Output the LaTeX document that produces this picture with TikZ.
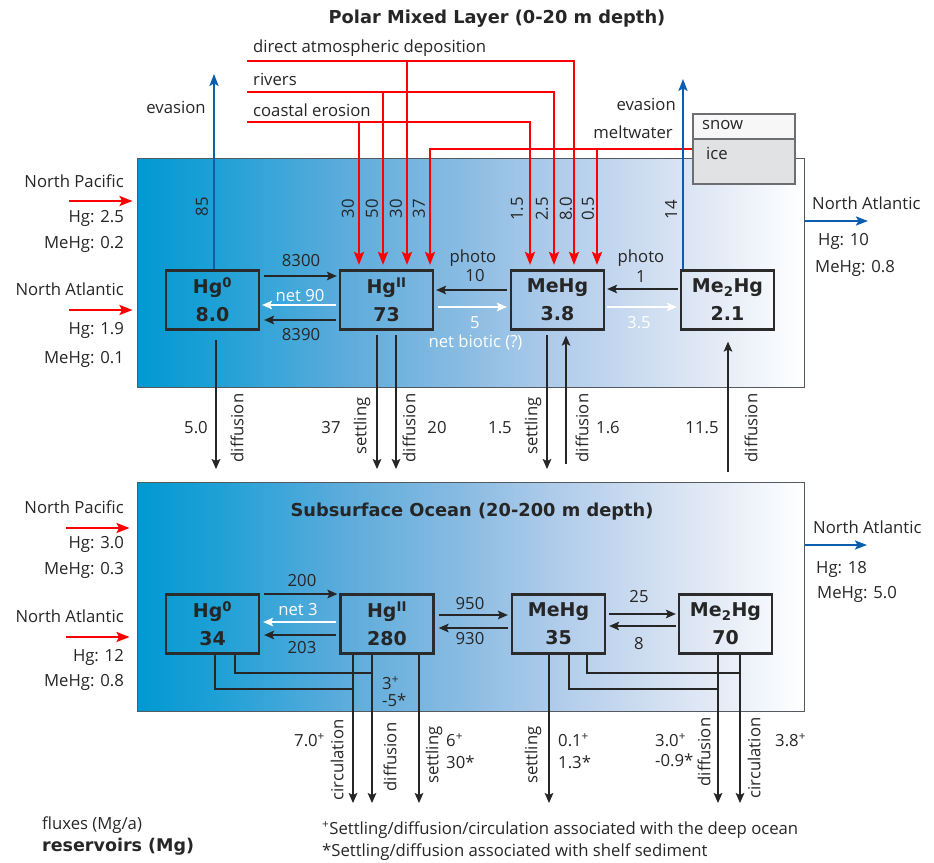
\documentclass[tikz,border=0pt]{standalone}
\usepackage{fontspec}
\setmainfont{Open Sans}
\newfontfamily\heavy{DejaVu Sans}[BoldFont={DejaVu Sans Bold}]
\usetikzlibrary{arrows.meta,calc}
\definecolor{txt}{HTML}{262626}
\definecolor{boxc}{HTML}{2B2B2B}
\definecolor{panelc}{HTML}{555A60}
\definecolor{myred}{HTML}{FF0000}
\definecolor{myblue}{HTML}{0B5DAE}
\definecolor{icegray}{HTML}{E1E2E4}
\definecolor{snowgray}{HTML}{F7F7F7}
\definecolor{icec}{HTML}{6D6E71}
\pgfdeclarehorizontalshading{panelshade}{100bp}{rgb(0bp)=(0,0.6,0.82); rgb(25bp)=(0,0.6,0.82); rgb(31bp)=(0.12,0.63,0.84); rgb(40bp)=(0.35,0.67,0.86); rgb(50bp)=(0.55,0.74,0.89); rgb(56.5bp)=(0.69,0.8,0.92); rgb(67.5bp)=(0.88,0.91,0.96); rgb(75bp)=(1,1,1); rgb(100bp)=(1,1,1)}
\begin{document}
\begin{tikzpicture}[x=1pt,y=-1pt,
  txtc/.style={text=txt, inner sep=0pt, font=\fontsize{16.7}{18}\selectfont},
  wtxt/.style={txtc, text=white},
  rot/.style={txtc, rotate=90},
  ttl/.style={text=txt, inner sep=0pt, font=\heavy\bfseries\fontsize{17.8}{20}\selectfont},
  box/.style={draw=boxc, line width=2.2pt, minimum width=93pt, minimum height=59pt, inner sep=0pt, align=center, text=txt, font=\heavy\bfseries\fontsize{19}{28}\selectfont},
  panel/.style={draw=panelc, line width=1pt, shade, shading=panelshade, minimum width=667pt, minimum height=229pt, inner sep=0pt},
  arr/.style={draw=txt, line width=2.2pt, -{Stealth[length=10pt,width=8.5pt,inset=2pt]}},
  warr/.style={draw=white, line width=2.5pt, -{Stealth[length=10pt,width=8.5pt,inset=2pt]}},
  plain/.style={draw=txt, line width=2.2pt},
  redarr/.style={draw=myred, line width=2.2pt, -{Stealth[length=13pt,width=10pt,inset=2.5pt]}},
  bluearr/.style={draw=myblue, line width=2.2pt, -{Stealth[length=12pt,width=9pt,inset=2.5pt]}},
  icebox/.style={draw=icec, line width=1.5pt, minimum width=102pt, inner sep=0pt, anchor=north west}
]
\useasboundingbox (0,0) rectangle (934,862);

% panels
\node[panel] (top) at (470.5,272.5) {};
\node[panel] (bot) at (470.5,596.5) {};

% titles
\node[ttl] (title1) at (497,19) {Polar Mixed Layer (0-20 m depth)};
\node[ttl] (title2) at (472,512) {Subsurface Ocean (20-200 m depth)};

% snow / ice
\node[icebox, fill=snowgray, minimum height=25pt] (snow) at (692,113) {};
\node[icebox, fill=icegray, minimum height=45pt] (ice) at (692,138) {};
\node[txtc, anchor=west] (snowl) at (702,125) {snow};
\node[txtc, anchor=west] (icel) at (706,153) {ice};

% top boxes
\node[box] (t0) at (212.5,300) {Hg\textsuperscript{0}\\8.0};
\node[box] (t2) at (386.5,300) {Hg\textsuperscript{II}\\73};
\node[box] (tm) at (557.5,300) {MeHg\\3.8};
\node[box] (td) at (727.5,300) {Me\textsubscript{2}Hg\\2.1};

% bottom boxes
\node[box] (b0) at (212.5,624) {Hg\textsuperscript{0}\\34};
\node[box] (b2) at (387,624) {Hg\textsuperscript{II}\\280};
\node[box] (bm) at (558.5,624) {MeHg\\35};
\node[box] (bd) at (725.5,624) {Me\textsubscript{2}Hg\\70};

% source labels
\node[txtc, anchor=west] (adl) at (253,48) {direct atmospheric deposition};
\node[txtc, anchor=west] (rvl) at (253,79) {rivers};
\node[txtc, anchor=west] (cel) at (253,110) {coastal erosion};
\coordinate (ad) at (247,61);
\coordinate (rv) at (247,92);
\coordinate (ce) at (247,122);
\coordinate (mw) at ($(ice.north west)+(0,11)$);

% red targets
\coordinate (r1) at ($(t2.north)+(-27.5,-4.5)$);
\coordinate (r2) at ($(t2.north)+(-3.5,-4.5)$);
\coordinate (r3) at ($(t2.north)+(20.5,-4.5)$);
\coordinate (r4) at ($(t2.north)+(43.5,-4.5)$);
\coordinate (r5) at ($(tm.north)+(-27.5,-4.5)$);
\coordinate (r6) at ($(tm.north)+(-3.5,-4.5)$);
\coordinate (r7) at ($(tm.north)+(16.5,-4.5)$);
\coordinate (r8) at ($(tm.north)+(39.5,-4.5)$);

\draw[redarr] (ad) -| (r7);
\draw[redarr] (r3 |- ad) -- (r3);
\draw[redarr] (rv) -| (r6);
\draw[redarr] (r2 |- rv) -- (r2);
\draw[redarr] (ce) -| (r5);
\draw[redarr] (r1 |- ce) -- (r1);
\draw[redarr] (mw) -| (r4);
\draw[redarr] (r8 |- mw) -- (r8);

% red flux labels
\node[rot] (f1) at (348,209) {30};
\node[rot] (f2) at (372,209) {50};
\node[rot] (f3) at (396,209) {30};
\node[rot] (f4) at (419,209) {37};
\node[rot] (f5) at (517,209) {1.5};
\node[rot] (f6) at (542,209) {2.5};
\node[rot] (f7) at (566,209) {8.0};
\node[rot] (f8) at (588,209) {0.5};

% evasion
\coordinate (ev1) at ($(t0.north)+(1.5,-195.5)$);
\coordinate (ev2) at ($(td.north)+(-44.5,-190.5)$);
\draw[bluearr] ($(t0.north)+(1.5,0)$) -- (ev1);
\draw[bluearr] ($(td.north)+(-44.5,0)$) -- (ev2);
\node[txtc] (evl1) at (176,107) {evasion};
\node[txtc, anchor=east] (evl2) at (676,104) {evasion};
\node[txtc, anchor=east] (mwl) at (673,132) {meltwater};
\node[rot] (e85) at (202,207) {85};
\node[rot] (e14) at (671,210) {14};

% top horizontal arrows
\draw[arr] ($(t0.east)+(4,-24)$) -- ($(t2.west)+(-2,-24)$);
\draw[warr] ($(t2.west)+(-3,5)$) -- ($(t0.east)+(2,5)$);
\draw[arr] ($(t2.west)+(-3,20)$) -- ($(t0.east)+(4,20)$);
\node[txtc] (l8300) at (301,261) {8300};
\node[wtxt] (lnet90) at (300,296) {net 90};
\node[txtc] (l8390) at (301,335) {8390};

\draw[arr] ($(tm.west)+(-3,-10)$) -- ($(t2.east)+(2,-10)$);
\draw[warr] ($(t2.east)+(4,7)$) -- ($(tm.west)+(-3,7)$);
\node[txtc] (lph1) at (473,258) {photo};
\node[txtc] (l10) at (475,276) {10};
\node[wtxt] (l5) at (475,323) {5};
\node[wtxt] (lnb) at (475.5,342) {net biotic (?)};

\draw[arr] ($(td.west)+(-2,-11)$) -- ($(tm.east)+(2,-11)$);
\draw[warr] ($(tm.east)+(2,7)$) -- ($(td.west)+(-3,7)$);
\node[txtc] (lph2) at (641,258) {photo};
\node[txtc] (l1) at (641,277) {1};
\node[wtxt] (l35) at (639,323) {3.5};

% between panels
\draw[arr] ($(t0.south)+(3.5,9.5)$) -- ($(t0.south)+(3.5,138.5)$);
\draw[arr] ($(t2.south)+(-9.5,4.5)$) -- ($(t2.south)+(-9.5,138.5)$);
\draw[arr] ($(t2.south)+(9.5,4.5)$) -- ($(t2.south)+(9.5,138.5)$);
\draw[arr] ($(tm.south)+(-10.5,4.5)$) -- ($(tm.south)+(-10.5,138.5)$);
\draw[arr] ($(tm.south)+(8.5,133.5)$) -- ($(tm.south)+(8.5,5)$);
\draw[arr] ($(td.south)+(0.5,141.5)$) -- ($(td.south)+(0.5,11)$);
\node[txtc] (m1) at (196,428) {5.0};
\node[rot] (m2) at (237,428) {diffusion};
\node[txtc] (m3) at (331,428) {37};
\node[rot] (m4) at (362,426) {settling};
\node[rot] (m5) at (409,428) {diffusion};
\node[txtc] (m6) at (437,428) {20};
\node[txtc] (m7) at (500,428) {1.5};
\node[rot] (m8) at (533,426) {settling};
\node[rot] (m9) at (582,428) {diffusion};
\node[txtc] (m10) at (608,428) {1.6};
\node[txtc] (m11) at (702,428) {11.5};
\node[rot] (m12) at (751,428) {diffusion};

% left inflows top
\node[txtc, anchor=east] (np1) at (124,181) {North Pacific};
\node[txtc, anchor=east] (np1a) at (124,218) {Hg: 2.5};
\node[txtc, anchor=east] (np1b) at (124,244) {MeHg: 0.2};
\node[txtc, anchor=east] (na1) at (124,289) {North Atlantic};
\node[txtc, anchor=east] (na1a) at (124,330) {Hg: 1.9};
\node[txtc, anchor=east] (na1b) at (124,359) {MeHg: 0.1};
\coordinate (in1) at (69,201);
\coordinate (in2) at (69,310);
\draw[redarr] (in1) -- ($(in1 -| top.west)+(-4,0)$);
\draw[redarr] (in2) -- ($(in2 -| top.west)+(-4,0)$);

% left inflows bottom
\node[txtc, anchor=east] (np2) at (124,507) {North Pacific};
\node[txtc, anchor=east] (np2a) at (124,544) {Hg: 3.0};
\node[txtc, anchor=east] (np2b) at (124,570) {MeHg: 0.3};
\node[txtc, anchor=east] (na2) at (124,616) {North Atlantic};
\node[txtc, anchor=east] (na2a) at (124,657) {Hg: 12};
\node[txtc, anchor=east] (na2b) at (124,682) {MeHg: 0.8};
\coordinate (in3) at (66,528);
\coordinate (in4) at (66,637);
\draw[redarr] (in3) -- ($(in3 -| bot.west)+(-7,0)$);
\draw[redarr] (in4) -- ($(in4 -| bot.west)+(-7,0)$);

% right outflows
\coordinate (out1) at (868,221);
\coordinate (out2) at (867,545);
\draw[bluearr] (out1 -| top.east) -- (out1);
\draw[bluearr] (out2 -| bot.east) -- (out2);
\node[txtc, anchor=west] (oa1) at (812,203) {North Atlantic};
\node[txtc, anchor=west] (oa1a) at (818,241) {Hg: 10};
\node[txtc, anchor=west] (oa1b) at (815,268) {MeHg: 0.8};
\node[txtc, anchor=west] (oa2) at (813,527) {North Atlantic};
\node[txtc, anchor=west] (oa2a) at (816,569) {Hg: 18};
\node[txtc, anchor=west] (oa2b) at (817,594) {MeHg: 5.0};

% bottom horizontal arrows
\draw[arr] ($(b0.east)+(4,-30)$) -- ($(b2.west)+(-2,-30)$);
\draw[warr] ($(b2.west)+(-3,-2)$) -- ($(b0.east)+(3,-2)$);
\draw[arr] ($(b2.west)+(-3,11)$) -- ($(b0.east)+(4,11)$);
\node[txtc] (l200) at (302,581) {200};
\node[wtxt] (lnet3) at (298,610) {net 3};
\node[txtc] (l203) at (302,648) {203};
\draw[arr] ($(b2.east)+(4,-9)$) -- ($(bm.west)+(-3,-9)$);
\draw[arr] ($(bm.west)+(-3,4)$) -- ($(b2.east)+(4,4)$);
\node[txtc] (l950) at (470,604) {950};
\node[txtc] (l930) at (470,639) {930};
\draw[arr] ($(bm.east)+(3,-10)$) -- ($(bd.west)+(-2,-10)$);
\draw[arr] ($(bd.west)+(-2,2)$) -- ($(bm.east)+(3,2)$);
\node[txtc] (l25) at (639,597) {25};
\node[txtc] (l8) at (639,644) {8};

% bottom outflows
\draw[plain] ($(b0.south)+(2.5,0)$) |- ($(b2.south)+(-34,34.5)$);
\draw[plain] ($(b0.south)+(22.5,0)$) |- ($(b2.south)+(-15,18.5)$);
\draw[arr] ($(b2.south)+(-34,0)$) -- ($(b2.south)+(-34,148.5)$);
\draw[arr] ($(b2.south)+(-15,0)$) -- ($(b2.south)+(-15,148.5)$);
\draw[arr] ($(b2.south)+(32,0)$) -- ($(b2.south)+(32,148.5)$);
\draw[plain] ($(bm.south)+(10.5,0)$) |- ($(bd.south)+(-7.5,34.5)$);
\draw[plain] ($(bm.south)+(28.5,0)$) |- ($(bd.south)+(14.5,18.5)$);
\draw[arr] ($(bm.south)+(-9.5,0)$) -- ($(bm.south)+(-9.5,148.5)$);
\draw[arr] ($(bd.south)+(-7.5,0)$) -- ($(bd.south)+(-7.5,148.5)$);
\draw[arr] ($(bd.south)+(14.5,0)$) -- ($(bd.south)+(14.5,148.5)$);

\node[txtc, anchor=west] (s1) at (382,683) {3\textsuperscript{+}};
\node[txtc, anchor=west] (s2) at (382,700) {-5*};
\node[txtc, anchor=west] (s3) at (294,740) {7.0\textsuperscript{+}};
\node[rot] (s4) at (337,760) {circulation};
\node[rot] (s5) at (390,757) {diffusion};
\node[rot] (s6) at (434,755) {settling};
\node[txtc, anchor=west] (s7) at (446,740) {6\textsuperscript{+}};
\node[txtc, anchor=west] (s8) at (446,762) {30*};
\node[rot] (s9) at (533,755) {settling};
\node[txtc, anchor=west] (s10) at (558,740) {0.1\textsuperscript{+}};
\node[txtc, anchor=west] (s11) at (558,762) {1.3*};
\node[txtc, anchor=west] (s12) at (655,740) {3.0\textsuperscript{+}};
\node[txtc, anchor=west] (s13) at (655,760) {-0.9*};
\node[rot] (s14) at (704,752) {diffusion};
\node[rot] (s15) at (754,758) {circulation};
\node[txtc, anchor=west] (s16) at (775,740) {3.8\textsuperscript{+}};

% footnotes and legend
\node[txtc, anchor=west] (fn1) at (322,830) {\textsuperscript{+}Settling/diffusion/circulation associated with the deep ocean};
\node[txtc, anchor=west] (fn2) at (322,852) {*Settling/diffusion associated with shelf sediment};
\node[txtc, anchor=west] (lg1) at (42,825) {fluxes (Mg/a)};
\node[txtc, anchor=west, font=\heavy\bfseries\fontsize{17.5}{19}\selectfont] (lg2) at (42,847) {reservoirs (Mg)};
\end{tikzpicture}
\end{document}
